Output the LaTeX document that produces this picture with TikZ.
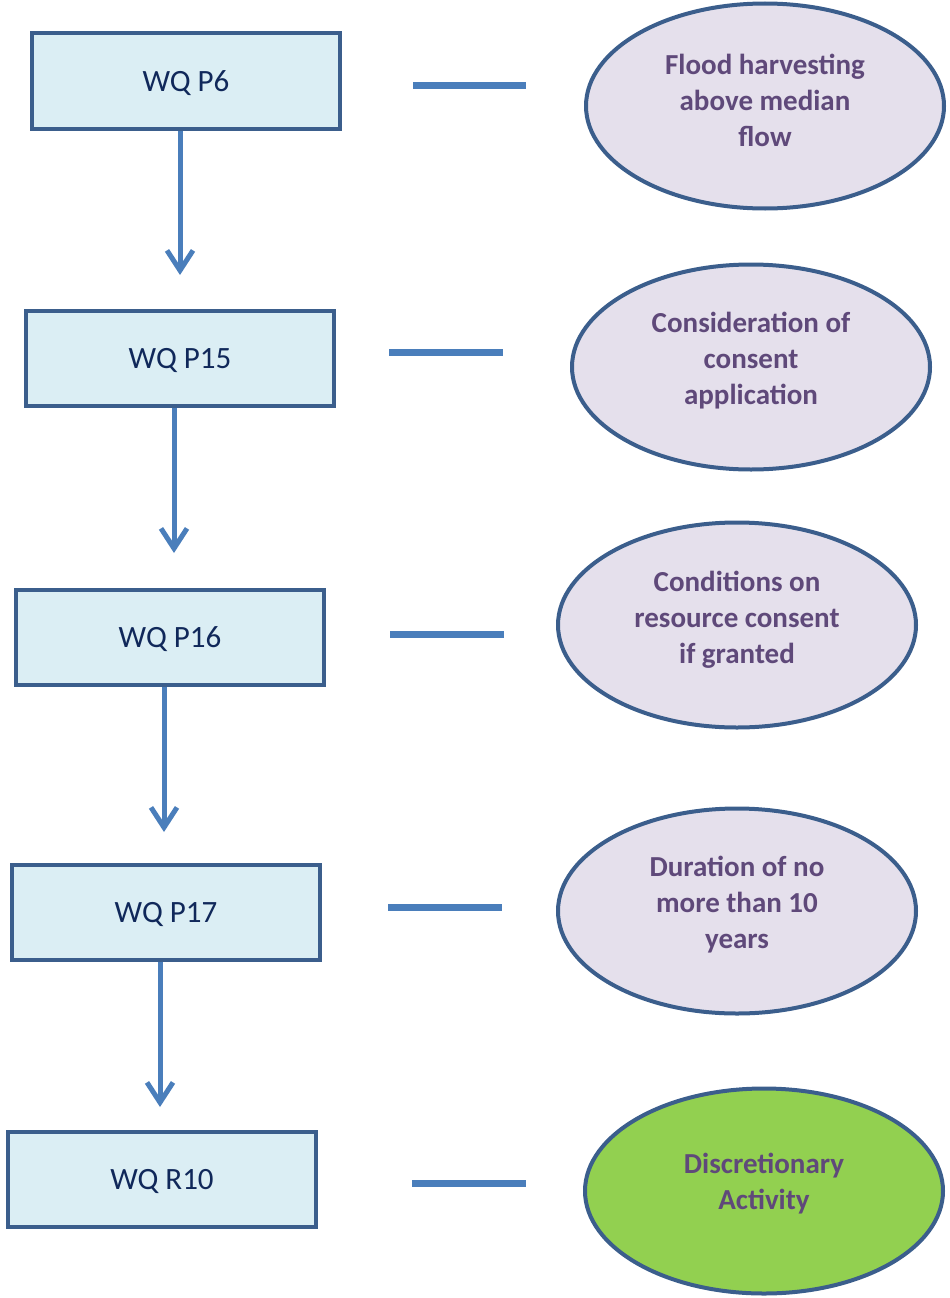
\documentclass[tikz,border=0pt]{standalone}
\usepackage{fontspec}
\setmainfont{Carlito}
\usetikzlibrary{arrows.meta,shapes.geometric}
\definecolor{boxline}{HTML}{3B5E8C}
\definecolor{boxfill}{HTML}{DBEEF4}
\definecolor{boxtext}{HTML}{10285A}
\definecolor{flowblue}{HTML}{4A7EBB}
\definecolor{ovalfill}{HTML}{E5E0EC}
\definecolor{ovaltext}{HTML}{5F497A}
\definecolor{ovalgreen}{HTML}{92D050}
\tikzset{
  stagebox/.style={draw=boxline, fill=boxfill, line width=4pt, rectangle,
    minimum width=308pt, minimum height=95pt, inner sep=0pt, text depth=0pt,
    text=boxtext, font=\fontsize{31}{37}\selectfont},
  noteoval/.style={draw=boxline, fill=ovalfill, line width=4pt, ellipse,
    minimum width=358pt, minimum height=205pt, inner sep=0pt},
  notetext/.style={inner sep=0pt, align=center,
    text=ovaltext, font=\bfseries\fontsize{29}{36}\selectfont},
  flow/.style={draw=flowblue, line width=5pt,
    -{Straight Barb[length=20pt, width=26pt, line width=5pt]}},
  tie/.style={draw=flowblue, line width=7pt}
}
\begin{document}
\begin{tikzpicture}[x=1pt, y=-1pt]
  \useasboundingbox (0,0) rectangle (950,1298);

  % stage boxes down the left
  \node[stagebox] (b1) at (186,81) {WQ P6};
  \node[stagebox] (b2) at (180,358) {WQ P15};
  \node[stagebox] (b3) at (170,637) {WQ P16};
  \node[stagebox] (b4) at (166,912) {WQ P17};
  \node[stagebox] (b5) at (162,1179) {WQ R10};

  % notes on the right
  \node[noteoval] (e1) at (765,106) {};
  \node[noteoval] (e2) at (751,367) {};
  \node[noteoval] (e3) at (737,625) {};
  \node[noteoval] (e4) at (737,911) {};
  \node[noteoval, fill=ovalgreen] (e5) at (764,1191) {};
  \node[notetext] (e1t) at ([yshift=6pt]e1.center) {Flood harvesting\\above median\\flow};
  \node[notetext] (e2t) at ([yshift=6pt]e2.center) {Consideration of\\consent\\application};
  \node[notetext] (e3t) at ([yshift=5pt]e3.center) {Conditions on\\resource consent\\if granted};
  \node[notetext] (e4t) at ([yshift=6pt]e4.center) {Duration of no\\more than 10\\years};
  \node[notetext] (e5t) at ([yshift=7pt]e5.center) {Discretionary\\Activity};

  % arrow ends
  \coordinate (a1) at (180,275);
  \coordinate (a2) at (174,553);
  \coordinate (a3) at (164,832);
  \coordinate (a4) at (160,1107);
  \draw[flow] (b1.south -| a1) -- (a1);
  \draw[flow] (b2.south -| a2) -- (a2);
  \draw[flow] (b3.south -| a3) -- (a3);
  \draw[flow] (b4.south -| a4) -- (a4);

  % short bars between box and note
  \coordinate (t1a) at (413,85);   \coordinate (t1b) at (526,85);
  \coordinate (t2a) at (389,352);  \coordinate (t2b) at (503,352);
  \coordinate (t3a) at (390,634);  \coordinate (t3b) at (504,634);
  \coordinate (t4a) at (388,907);  \coordinate (t4b) at (502,907);
  \coordinate (t5a) at (412,1183); \coordinate (t5b) at (526,1183);
  \draw[tie] (t1a) -- (t1b);
  \draw[tie] (t2a) -- (t2b);
  \draw[tie] (t3a) -- (t3b);
  \draw[tie] (t4a) -- (t4b);
  \draw[tie] (t5a) -- (t5b);
\end{tikzpicture}
\end{document}
